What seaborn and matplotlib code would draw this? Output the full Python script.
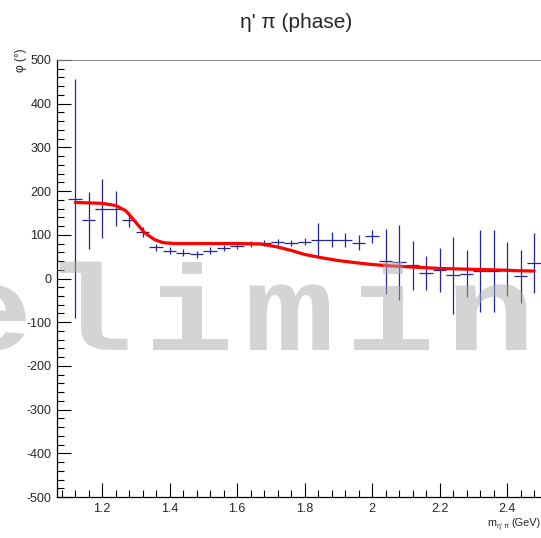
import numpy as np
import pandas as pd
import matplotlib
matplotlib.use("Agg")
import matplotlib.pyplot as plt
import seaborn as sns
from matplotlib.ticker import MultipleLocator, FixedLocator
from matplotlib.textpath import TextPath
from matplotlib.patches import PathPatch
from matplotlib.font_manager import FontProperties
from matplotlib.transforms import Affine2D, IdentityTransform

# ---------------- data ----------------
mass = [1.12, 1.16, 1.20, 1.24, 1.28, 1.32, 1.36, 1.40, 1.44, 1.48, 1.52, 1.56,
        1.60, 1.64, 1.68, 1.72, 1.76, 1.80, 1.84, 1.88, 1.92, 1.96, 2.00, 2.04,
        2.08, 2.12, 2.16, 2.20, 2.24, 2.28, 2.32, 2.36, 2.40, 2.44, 2.48]
phase = [183, 133, 160, 160, 135, 106, 72, 64, 59, 55, 64, 70,
         74, 79, 81, 83, 82, 84, 89, 89, 87, 82, 97, 39,
         37, 30, 13, 19, 7, 11, 18, 17, 21, 5, 36]
phase_err = [273, 65, 67, 41, 17, 12, 8, 8, 8, 8, 7, 7,
             7, 7, 7, 7, 7, 8, 38, 18, 16, 17, 15, 74,
             86, 56, 39, 50, 89, 54, 94, 93, 62, 61, 69]
bin_half = 0.02

model_mass = [1.12, 1.20, 1.24, 1.27, 1.30, 1.325, 1.355, 1.38, 1.414, 1.50,
              1.60, 1.67, 1.72, 1.756, 1.80, 1.853, 1.90, 1.952, 2.00, 2.051,
              2.10, 2.15, 2.20, 2.25, 2.30, 2.35, 2.42, 2.48]
model_phase = [174, 172, 167, 155, 128, 105, 89, 82, 80, 80,
               80, 79, 72, 65, 55, 47, 41, 36, 32, 29,
               27, 25, 23, 22, 21, 20, 18, 17]

x_ticks = [1.2, 1.4, 1.6, 1.8, 2.0, 2.2, 2.4]
x_ticklabels = ["1.2", "1.4", "1.6", "1.8", "2", "2.2", "2.4"]

title = "η' π (phase)"
ylabel = "φ (°)"
watermark = "Preliminary"

# ---------------- style ----------------
sns.set_style("ticks")
plt.rcParams['font.family'] = ['Liberation Sans', 'DejaVu Sans']
plt.rcParams['axes.unicode_minus'] = False

W, H = 541, 538
fig = plt.figure(figsize=(W / 100, H / 100), dpi=100)
fig.patch.set_facecolor("white")

L_px, B_px, T_px = 57, 497, 60
ppg = 337.5
xmin, xmax = 1.066, 2.56
ax = fig.add_axes([L_px / W, 1 - B_px / H, (xmax - xmin) * ppg / W, (B_px - T_px) / H])
ax.set_facecolor("white")

df_pts = pd.DataFrame({"mass": mass, "phase": phase, "err": phase_err})
df_mod = pd.DataFrame({"mass": model_mass, "phase": model_phase})

navy = "#23239a"
ax.errorbar(df_pts["mass"], df_pts["phase"], yerr=df_pts["err"], xerr=bin_half,
            fmt="none", ecolor=navy, elinewidth=0.9, capsize=0, zorder=3)
sns.lineplot(data=df_mod, x="mass", y="phase", ax=ax, color="#ff0000",
             linewidth=2.3, zorder=4, sort=False)

ax.set_xlim(xmin, xmax)
ax.set_ylim(-500, 500)
ax.set_xlabel("")
ax.set_ylabel("")
ax.xaxis.set_major_locator(FixedLocator(x_ticks))
ax.xaxis.set_minor_locator(MultipleLocator(0.04))
ax.yaxis.set_major_locator(MultipleLocator(100))
ax.yaxis.set_minor_locator(MultipleLocator(20))
ax.set_xticklabels(x_ticklabels)
ax.tick_params(which="major", direction="in", length=10, width=0.8, color="black",
               labelsize=9, top=False, right=False, pad=4)
ax.tick_params(which="minor", direction="in", length=5, width=0.8, color="black",
               top=False, right=False)
for s in ax.spines.values():
    s.set_linewidth(0.9)
    s.set_color("black")
ax.spines["top"].set_linewidth(0.6)
ax.spines["top"].set_color("#777777")

# titles / labels
fig.text(296 / W, 1 - 22 / H, title, ha="center", va="center", fontsize=15)
fig.text(21 / W, 1 - 48 / H, ylabel, rotation=90, ha="center", va="top", fontsize=8.5)
fig.text(487 / W, 1 - 523 / H, "m", ha="left", va="center", fontsize=7.8)
fig.text(497 / W, 1 - 526.5 / H, "η' π", ha="left", va="center", fontsize=5)
fig.text(541 / W, 1 - 523 / H, "(GeV)", ha="right", va="center", fontsize=7.8)

# watermark (drawn on top, semi-transparent, stretched monospace glyphs)
fp = FontProperties(family="Liberation Mono", weight="bold")
adv = 100.5
e_center = -12
baseline = 350
sx, sy = 150, 122
for i, ch in enumerate(watermark):
    cx = e_center + (i - 2) * adv
    tp = TextPath((0, 0), ch, size=1, prop=fp)
    tr = Affine2D().translate(-0.3, 0).scale(sx, sy).translate(cx, H - baseline)
    patch = PathPatch(tr.transform_path(tp), facecolor="#aaaaaa", edgecolor="none",
                      alpha=0.5, zorder=10)
    patch.set_transform(IdentityTransform())
    fig.add_artist(patch)

fig.savefig("out.png", dpi=100)
